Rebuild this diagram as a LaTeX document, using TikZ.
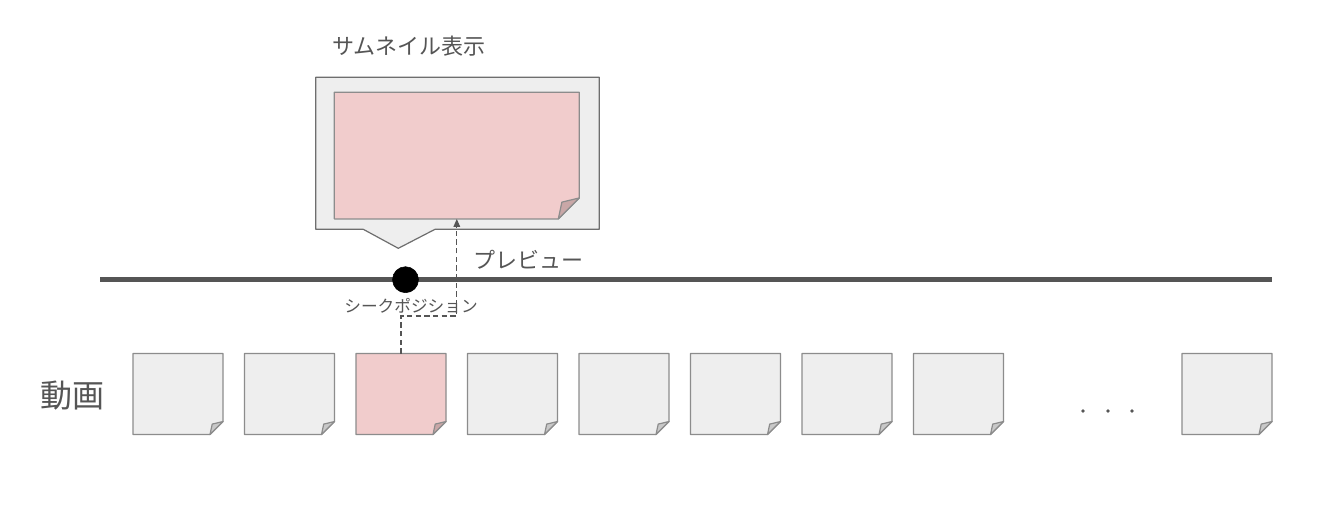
\documentclass[tikz,border=0pt]{standalone}
\usepackage{fontspec}
\newfontfamily\jp{Noto Sans CJK JP}
\usetikzlibrary{calc,arrows.meta}
\definecolor{paper}{HTML}{EEEEEE}
\definecolor{paperedge}{HTML}{8C8C8C}
\definecolor{paperfold}{HTML}{C8C8C8}
\definecolor{pinkpaper}{HTML}{F1CCCC}
\definecolor{pinkfold}{HTML}{C9A7A7}
\definecolor{ink}{HTML}{555555}
\tikzset{
  framebox/.style={rectangle,inner sep=0pt,outer sep=0pt,minimum width=67.5pt,minimum height=60.75pt},
  thumbbox/.style={rectangle,inner sep=0pt,outer sep=0pt,minimum width=183.75pt,minimum height=95pt},
  wrapbox/.style={rectangle,inner sep=0pt,outer sep=0pt,minimum width=212.7pt,minimum height=114pt},
  label/.style={font=\jp,text=ink,inner sep=0pt},
  seekdot/.style={circle,fill=black,draw=black,minimum size=19.5pt,inner sep=0pt},
  preview/.style={draw=ink,dash pattern=on 4pt off 2.5pt,line width=0.8pt,-{Triangle[length=6pt,width=5pt]}},
}
% dog-eared sheet drawn on a named node: #1 node, #2 fill, #3 fold fill, #4 fold size (px)
\newcommand\dogear[4]{%
  \filldraw[fill=#2,draw=paperedge,line width=0.9pt,line join=round]
    (#1.north west) -- (#1.north east) -- ($(#1.south east)+(0,-#4)$)
    -- ($(#1.south east)+(-#4,0)$) -- (#1.south west) -- cycle;
  \filldraw[fill=#3,draw=paperedge,line width=0.9pt,line join=round]
    ($(#1.south east)+(-#4,0)$) -- ($(#1.south east)+(0,-#4)$)
    -- ($(#1.south east)+(-0.83*#4,-0.8*#4)$) -- cycle;
}
\begin{document}
\begin{tikzpicture}[x=0.75pt,y=-0.75pt]
\useasboundingbox (0,0) rectangle (1330,504);
\fill[white] (0,0) rectangle (1330,504);

% callout with thumbnail
\node[wrapbox] (wrap) at (457.5,153.3) {};
\filldraw[fill=paper,draw=ink!85,line width=0.9pt,line join=round]
  (wrap.north west) -- (wrap.north east) -- (wrap.south east)
  -- (435,229.3) -- (398.3,248.3) -- (363.3,229.3) -- (wrap.south west) -- cycle;
\node[thumbbox] (thumb) at (456.8,155.6) {};
\dogear{thumb}{pinkpaper}{pinkfold}{21}
\node[label,font=\jp\fontsize{16.5pt}{18pt}\selectfont] (title) at (409,46) {サムネイル表示};

% timeline
\coordinate (lineL) at (100,279.5);
\coordinate (lineR) at (1272,279.5);
\draw[ink,line width=3.2pt] (lineL) -- (lineR);
\node[seekdot] (seek) at (405.5,279.7) {};
\node[label,font=\jp\fontsize{12.5pt}{14pt}\selectfont] (seeklabel) at (411,306) {シークポジション};
\node[label,font=\jp\fontsize{16.5pt}{18pt}\selectfont] (previewlabel) at (528,260) {プレビュー};

% frames
\foreach \n/\x in {1/178,2/289.5,3/401,4/512.5,5/624,6/735.5,7/847,8/958.5,9/1227}{
  \node[framebox] (f\n) at (\x,394) {};
}
\foreach \n in {1,2,4,5,6,7,8,9}{\dogear{f\n}{paper}{paperfold}{13}}
\dogear{f3}{pinkpaper}{pinkfold}{13}

\foreach \x/\n in {1083/a,1108/b,1132/c}{\fill[ink] (\x,411) circle (1.4pt) coordinate (dot\n);}

\node[label,font=\jp\fontsize{24pt}{28pt}\selectfont] (movie) at (72,396) {動画};

% preview connector
\coordinate (bend) at (456.8,316);
\draw[preview] (f3.north) |- (bend) -- (thumb.south);
\end{tikzpicture}
\end{document}
